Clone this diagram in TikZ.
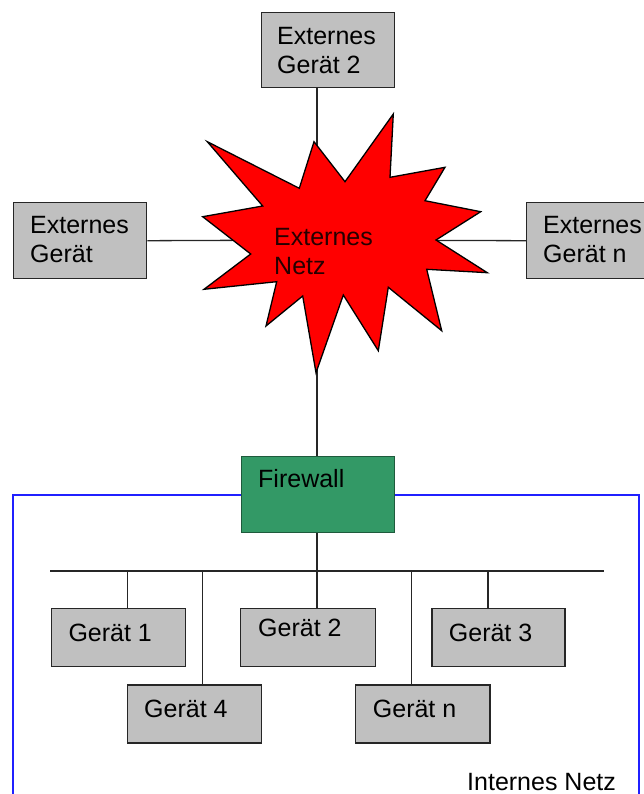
\documentclass[tikz,border=0pt]{standalone}
\usepackage{fontspec}
\setmainfont{Liberation Sans}
\definecolor{boxgray}{HTML}{C0C0C0}
\definecolor{fwgreen}{HTML}{339966}
\definecolor{fwborder}{HTML}{1E5A3C}
\definecolor{netblue}{HTML}{2020FF}
\begin{document}
\begin{tikzpicture}[x=1pt,y=-1pt,
  box/.style={draw=black!85, line width=1.4pt, fill=boxgray, inner sep=0pt, anchor=north west},
  txt/.style={anchor=base west, inner sep=0pt, font=\fontsize{25}{29}\selectfont, align=left},
  wire/.style={line width=1.3pt, draw=black!85},
  blueline/.style={line width=1.6pt, draw=netblue}]
\useasboundingbox (0,0) rectangle (644,794);

% coordinates
\coordinate (net) at (317,240);
\coordinate (busL) at (50,571);
\coordinate (busR) at (604,571);
\coordinate (t1) at (127.3,571);
\coordinate (t4) at (202.3,571);
\coordinate (t2) at (317,571);
\coordinate (tn) at (411.3,571);
\coordinate (t3) at (488,571);
\coordinate (bl) at (12.7,800);
\coordinate (br) at (639,800);

% boxes
\node[box, minimum width=133pt, minimum height=75pt] (e2) at (261,12) {};
\node[box, minimum width=133pt, minimum height=76pt] (e1) at (13,202) {};
\node[box, minimum width=133pt, minimum height=76pt] (en) at (526,202) {};
\node[box, draw=fwborder, fill=fwgreen, minimum width=153pt, minimum height=76pt] (fw) at (241,456) {};
\node[box, minimum width=134pt, minimum height=58pt] (g1) at (51,608) {};
\node[box, minimum width=135pt, minimum height=58pt] (g2) at (240,608) {};
\node[box, minimum width=133pt, minimum height=58pt] (g3) at (431.3,608) {};
\node[box, minimum width=134pt, minimum height=58pt] (g4) at (126.7,684.3) {};
\node[box, minimum width=134.6pt, minimum height=58pt] (gn) at (354.7,684.3) {};

% connectors (behind the star)
\draw[wire] (net |- e2.south) -- (net);
\draw[wire] (e1.east) -- (net);
\draw[wire] (en.west) -- (net);
\draw[wire] (net) -- (net |- fw.north);
\draw[wire] (fw.south -| t2) -- (t2);
\draw[wire] (busL) -- (busR);
\draw[wire] (t1) -- (t1 |- g1.north);
\draw[wire] (t4) -- (t4 |- g4.north);
\draw[wire] (t2) -- (t2 |- g2.north);
\draw[wire] (tn) -- (tn |- gn.north);
\draw[wire] (t3) -- (t3 |- g3.north);

% blue internal network border
\draw[blueline] (bl) -- (bl |- fw.west) -- (fw.west);
\draw[blueline] (fw.east) -- (br |- fw.east) -- (br);

% star
\draw[line width=1.3pt, draw=black, fill=red, line join=miter]
  (207.3,141.7) -- (299.3,188.3) -- (314,141.7) -- (345,181.7) -- (393.3,114)
  -- (390,177.3) -- (445,167.3) -- (425,200.7) -- (480.7,211.7) -- (436,240)
  -- (487.3,272.7) -- (426.7,269.3) -- (441.7,330.7) -- (388.3,287.3) -- (378.3,350.7)
  -- (343.3,295) -- (316,372.7) -- (302.7,296) -- (266,326) -- (276.7,281.7)
  -- (204,289.3) -- (250.7,254) -- (202.7,216.7) -- (262.7,206) -- cycle;

% texts (base anchor of a two-line node is the baseline of its last line)
\node[txt] (e2t) at (277,74) {Externes\\Gerät 2};
\node[txt] (e1t) at (30,262.7) {Externes\\Gerät};
\node[txt] (ent) at (543,262.7) {Externes\\Gerät n};
\node[txt, text=black!85!red] (nett) at (274,274) {Externes\\Netz};
\node[txt] (fwt) at (258,487) {Firewall};
\node[txt] (g1t) at (68.3,641) {Gerät 1};
\node[txt] (g2t) at (258,636.7) {Gerät 2};
\node[txt] (g3t) at (448.7,641) {Gerät 3};
\node[txt] (g4t) at (144,717.3) {Gerät 4};
\node[txt] (gnt) at (372.7,717) {Gerät n};
\node[txt] (intt) at (467,790) {Internes Netz};
\end{tikzpicture}
\end{document}
